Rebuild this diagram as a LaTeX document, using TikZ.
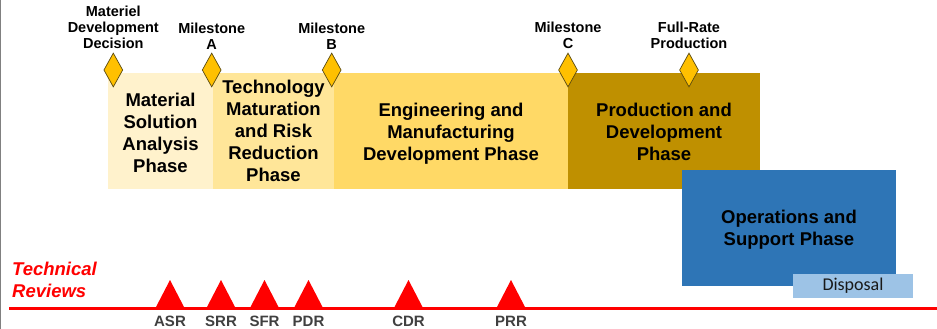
\documentclass[tikz,border=0pt]{standalone}
\usepackage{fontspec}
\setmainfont{Liberation Sans}
\newfontfamily\calibrifont{Carlito}
\usetikzlibrary{shapes.geometric}
\definecolor{msacol}{HTML}{FFF2CC}
\definecolor{tmrcol}{HTML}{FFE699}
\definecolor{emdcol}{HTML}{FFD966}
\definecolor{pdcol}{HTML}{BF9000}
\definecolor{oscol}{HTML}{2E75B6}
\definecolor{dispcol}{HTML}{9DC3E6}
\definecolor{gold}{HTML}{FFC000}
\definecolor{goldline}{HTML}{5A4A10}
\definecolor{revgray}{HTML}{404040}
\begin{document}
\begin{tikzpicture}[x=1pt,y=-1pt,
  phase/.style={rectangle, draw=none, inner sep=0pt, outer sep=0pt},
  phasetext/.style={inner sep=0pt, align=center,
    font=\fontsize{18.5}{22}\selectfont\bfseries},
  milestone/.style={diamond, draw=goldline, line width=0.7pt, fill=gold, inner sep=0pt,
    minimum width=19pt, minimum height=34pt},
  mlabel/.style={anchor=south, inner sep=0pt, align=center,
    font=\fontsize{14.5}{16}\selectfont\bfseries},
  revlabel/.style={anchor=base, inner sep=0pt, text=revgray,
    font=\fontsize{15}{17}\selectfont\bfseries},
  review/.style={fill=red},
]
\useasboundingbox (0,0) rectangle (937,329);
\fill[white] (0,0) rectangle (937,329);
\draw[gray, line width=1pt] (0.5,0) -- (0.5,329);

% phases
\node[phase, fill=msacol, minimum width=105pt, minimum height=116pt] (msa) at (160.5,131) {};
\node[phase, fill=tmrcol, minimum width=121pt, minimum height=116pt] (tmr) at (273.5,131) {};
\node[phase, fill=emdcol, minimum width=234pt, minimum height=116pt] (emd) at (451,131) {};
\node[phase, fill=pdcol, minimum width=192pt, minimum height=116pt] (pd) at (664,131) {};
\node[phasetext] (msat) at ([yshift=-2pt]msa.center) {Material\\Solution\\Analysis\\Phase};
\node[phasetext] (tmrt) at (tmr.center) {Technology\\Maturation\\and Risk\\Reduction\\Phase};
\node[phasetext] (emdt) at ([yshift=-2.5pt]emd.center) {Engineering and\\Manufacturing\\Development Phase};
\node[phasetext] (pdt) at ([yshift=-1pt]pd.center) {Production and\\Development\\Phase};
\node[phase, fill=oscol, minimum width=214pt, minimum height=116pt] (os) at (789,228) {};
\node[phasetext] (ost) at ([yshift=-2pt]os.center) {Operations and\\Support Phase};
\node[rectangle, fill=dispcol, inner sep=0pt, minimum width=120pt, minimum height=24pt,
  text=black!90, font=\calibrifont\fontsize{18}{20}\selectfont] (disp) at (853,286) {Disposal};

% milestones
\node[milestone] (mdd) at (113.3,70) {};
\node[milestone] (msA) at (211.7,70) {};
\node[milestone] (msB) at (331.7,70) {};
\node[milestone] (msC) at (568,70) {};
\node[milestone] (frp) at (689,70) {};
\node[mlabel] (mddl) at (113.3,49.3) {Materiel\\Development\\Decision};
\node[mlabel] (msAl) at (211.7,49.3) {Milestone\\A};
\node[mlabel] (msBl) at (331.7,49.3) {Milestone\\B};
\node[mlabel] (msCl) at (568,49.3) {Milestone\\C};
\node[mlabel] (frpl) at (689,49.3) {Full-Rate\\Production};

% technical reviews
\node[anchor=north west, inner sep=0pt, align=left, text=red,
  font=\fontsize{18.5}{21.7}\selectfont\bfseries\itshape] (tr) at (12,262) {Technical\\Reviews};
\coordinate (lineL) at (9,308);
\coordinate (lineR) at (937,308);
\draw[red, line width=3pt] (lineL) -- (lineR);
\foreach \x/\nm in {170/ASR, 221/SRR, 264.5/SFR, 308.5/PDR, 408.5/CDR, 511/PRR}{
  \fill[review] (\x-14,307) -- (\x,280) -- (\x+14,307) -- cycle;
  \node[revlabel] (\nm) at (\x,326) {\nm};
}
\end{tikzpicture}
\end{document}
